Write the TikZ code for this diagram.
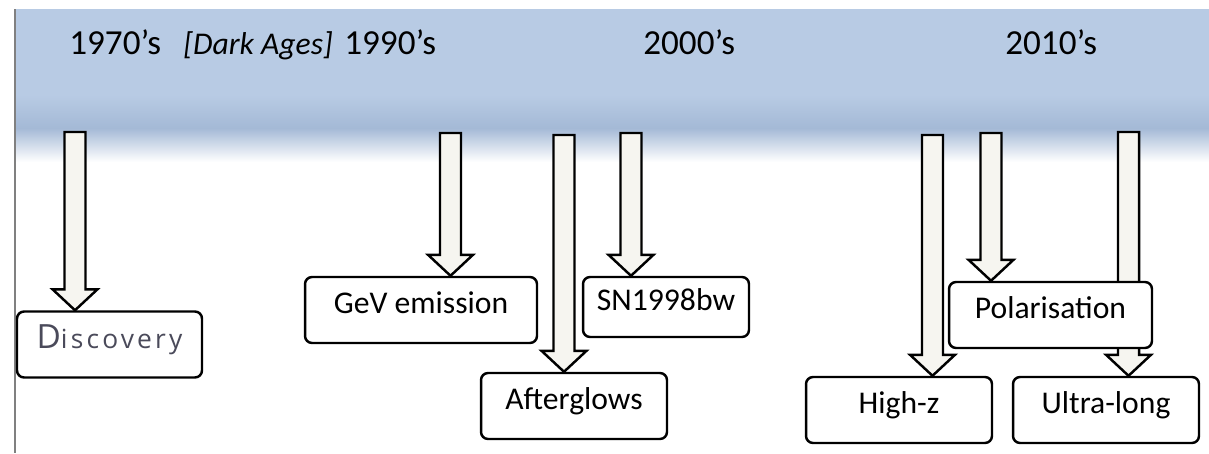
\documentclass[tikz,border=0pt]{standalone}
\usepackage{fontspec}
\setmainfont{Carlito}
\newfontfamily\discfont[LetterSpace=12]{Open Sans}
\usepackage{tikz}
\usetikzlibrary{calc,positioning}
\definecolor{bandblue}{HTML}{B8CBE4}
\definecolor{banddark}{HTML}{A4B9D6}
\definecolor{arrowfill}{HTML}{F6F5F0}
\definecolor{disctext}{HTML}{4A4A5A}
\pgfdeclarelayer{back}
\pgfdeclarelayer{mid}
\pgfsetlayers{back,mid,main}
\newcommand\blockarrow[2]{%
\coordinate (tip) at (#1 |- #2.north);
\draw [fatarrow] (tip) -- ++(-22.5,-21) -- ++(12,0) -- ($(#1)+(-10.5,0)$) -- ++(21,0) -- ($(tip)+(10.5,-21)$) -- ++(12,0) -- cycle;}

\begin{document}
\begin{tikzpicture}[x=0.02cm,y=-0.02cm,
  tagbox/.style={draw, line width=1.4pt, rounded corners=4pt, fill=white, minimum height=1.32cm, inner sep=0pt, text height=0.7em, text depth=0.25em, font=\fontsize{18}{22}\selectfont},
  year/.style={inner sep=0pt, anchor=base west, font=\fontsize{20}{24}\selectfont},
  fatarrow/.style={draw=black, line width=1.4pt, fill=arrowfill, line join=miter}]
\useasboundingbox (0,0) rectangle (1209,453);
\node [year] (y70) at (69,54) {1970’s};
\node [year, font=\fontsize{18}{22}\selectfont\itshape] (dark) at (183,54) {[Dark Ages]};
\node [year] (y90) at (344,54) {1990’s};
\node [year] (y00) at (643,54) {2000’s};
\node [year] (y10) at (1005,54) {2010’s};
\node [tagbox, minimum width=3.7cm, text=disctext] (disc) at (109.5,344.5) {\discfont\fontsize{19}{22}\selectfont D\fontsize{15}{18}\selectfont iscovery};
\node [tagbox, minimum width=4.64cm] (gev) at (421,310) {GeV emission};
\node [tagbox, minimum width=3.32cm, minimum height=1.2cm] (sn) at (666,307) {SN1998bw};
\node [tagbox, minimum width=3.72cm] (aft) at (574,406) {Afterglows};
\node [tagbox, minimum width=4.06cm] (pol) at (1050.5,315) {Polarisation};
\node [tagbox, minimum width=3.72cm] (hiz) at (899,410) {High-z};
\node [tagbox, minimum width=3.72cm] (ul) at (1106,410) {Ultra-long};
\coordinate (a1) at (75,132);
\coordinate (a2) at (450.5,133);
\coordinate (a3) at (564,135);
\coordinate (a4) at (631,133);
\coordinate (a5) at (932.5,135);
\coordinate (a6) at (991,133);
\coordinate (a7) at (1128.5,132);
\begin{pgfonlayer}{mid}
\blockarrow{a1}{disc}
\blockarrow{a2}{gev}
\blockarrow{a3}{aft}
\blockarrow{a4}{sn}
\blockarrow{a5}{hiz}
\blockarrow{a6}{pol}
\blockarrow{a7}{ul}
\end{pgfonlayer}
\begin{pgfonlayer}{back}
\fill [bandblue] (15,9) rectangle (1209,95);
\shade [top color=bandblue, bottom color=banddark] (15,95) rectangle (1209,128);
\shade [top color=banddark, bottom color=white] (15,128) rectangle (1209,162);
\draw [gray, line width=0.6pt] (15,9) -- (15,453);
\end{pgfonlayer}
\end{tikzpicture}
\end{document}
